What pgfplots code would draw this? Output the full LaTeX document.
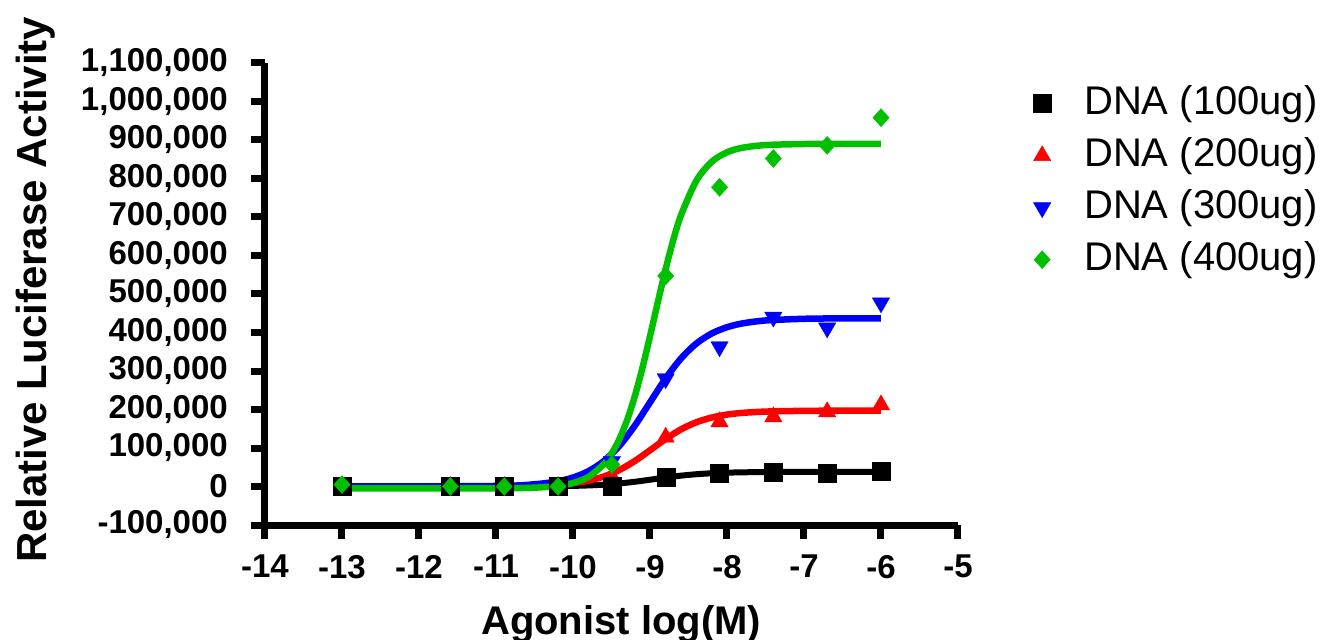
\documentclass[border=0pt]{standalone}
\usepackage{pgfplots}
\pgfplotsset{compat=1.18}
\usepackage{fontspec}
\setmainfont{Liberation Sans}

\definecolor{prismred}{RGB}{255,0,0}
\definecolor{prismblue}{RGB}{0,0,255}
\definecolor{prismgreen}{RGB}{0,192,0}

\begin{document}
\begin{tikzpicture}
\begin{axis}[
  at={(0,0)}, anchor=south west,
  scale only axis, width=693bp, height=462bp,
  xmin=-14, xmax=-5, ymin=-100000, ymax=1100000,
  xtick={-14,-13,-12,-11,-10,-9,-8,-7,-6,-5},
  ytick={-100000,0,100000,200000,300000,400000,500000,600000,700000,800000,900000,1000000,1100000},
  scaled y ticks=false,
  axis lines=left,
  axis line style={-, line width=7bp},
  tick align=outside,
  major tick length=14bp,
  major tick style={line width=7bp, black},
  /pgf/number format/assume math mode=true,
  yticklabel style={/pgf/number format/fixed, /pgf/number format/1000 sep={,},
    anchor=east, inner sep=0pt, xshift=-23bp},
  xticklabel style={anchor=north, inner sep=0pt, yshift=-16bp},
  tick label style={font=\bfseries\fontsize{33bp}{39bp}\selectfont},
  xlabel={Agonist log(M)},
  ylabel={Relative Luciferase Activity},
  every axis x label/.style={at={(axis description cs:0.514,-0.236)}, anchor=base,
    font=\bfseries\fontsize{40bp}{46bp}\selectfont},
  every axis y label/.style={at={(axis description cs:-0.316,0.509)}, rotate=90, anchor=base,
    font=\bfseries\fontsize{42bp}{48bp}\selectfont},
  legend cell align=left,
  legend style={at={(axis description cs:1,1)}, anchor=north west, xshift=75bp, yshift=-22bp,
    draw=none, fill=none, inner sep=0pt, row sep=15bp, column sep=33bp,
    font=\fontsize{40bp}{46bp}\selectfont,
    nodes={inner sep=0pt, text height=29bp, text depth=8bp}},
]
\addlegendimage{only marks, mark=square*, mark size=9bp, black}
\addlegendentry{DNA (100ug)}
\addlegendimage{only marks, mark=triangle*, mark size=10bp, prismred}
\addlegendentry{DNA (200ug)}
\addlegendimage{only marks, mark=triangle*, mark size=10bp, mark options={rotate=180}, prismblue}
\addlegendentry{DNA (300ug)}
\addlegendimage{only marks, mark=diamond*, mark size=9bp, mark options={xscale=1.2}, prismgreen}
\addlegendentry{DNA (400ug)}

% fitted curves
\addplot[forget plot, black, line width=6bp, smooth] coordinates {
(-13,0) (-11,80) (-10.5,360) (-10.2,880) (-10,1570) (-9.8,2770) (-9.6,4750) (-9.4,7840)
(-9.2,12210) (-9.0,17580) (-8.8,23200) (-8.6,28130) (-8.4,31860) (-8.2,34360) (-8.0,35910)
(-7.8,36820) (-7.5,37510) (-7.0,37900) (-6.5,37980) (-6,38000)};
\addplot[forget plot, prismred, line width=6.5bp, smooth] coordinates {
(-13,0) (-11,450) (-10.5,2000) (-10.2,4840) (-10,8630) (-9.8,15150) (-9.6,25950) (-9.4,42620)
(-9.2,65870) (-9.0,94080) (-8.8,123000) (-8.6,148100) (-8.4,166700) (-8.2,179100) (-8.0,186800)
(-7.8,191200) (-7.5,194600) (-7,196500) (-6.5,196900) (-6,197000)};
\addplot[forget plot, prismblue, line width=6.5bp, smooth] coordinates {
(-13,0) (-11,1380) (-10.5,5750) (-10.2,13400) (-10,23280) (-9.8,39730) (-9.6,65980) (-9.4,105000)
(-9.2,157300) (-9.0,218500) (-8.8,279700) (-8.6,332000) (-8.4,371000) (-8.2,397300) (-8.0,413700)
(-7.8,423600) (-7.5,431200) (-7,435600) (-6.5,436700) (-6,437000)};
\addplot[forget plot, prismgreen, line width=6.5bp, smooth] coordinates {
(-13,-5000) (-11,-4718) (-10.5,-3010) (-10.2,1400) (-10,8900) (-9.8,24870) (-9.6,57840)
(-9.5,84920) (-9.4,121900) (-9.3,170700) (-9.2,232600) (-9.1,306700) (-9.0,390100) (-8.9,477400)
(-8.8,562200) (-8.7,638500) (-8.6,703000) (-8.4,793500) (-8.2,843200) (-8.0,868000)
(-7.8,879800) (-7.5,886800) (-7,889550) (-6.5,889950) (-6,890000)};

% data points
\addplot[forget plot, only marks, mark=triangle*, mark size=10bp, prismred, line width=0.4bp] coordinates {
(-13,0) (-11.592,0) (-10.893,0) (-10.194,0) (-9.495,26000) (-8.796,128000) (-8.097,168000)
(-7.398,181000) (-6.699,194000) (-6,212000)};
\addplot[forget plot, only marks, mark=triangle*, mark size=10bp, mark options={rotate=180}, prismblue, line width=0.4bp] coordinates {
(-13,3000) (-11.592,3000) (-10.893,3000) (-10.194,5000) (-9.495,65000) (-8.796,280000) (-8.097,363000)
(-7.398,440000) (-6.699,412000) (-6,477000)};
\addplot[forget plot, only marks, mark=square*, mark size=9bp, black, line width=0.4bp] coordinates {
(-13,0) (-11.592,0) (-10.893,0) (-10.194,0) (-9.495,2000) (-8.796,23000) (-8.097,34000)
(-7.398,36000) (-6.699,34000) (-6,41000)};
\addplot[forget plot, only marks, mark=diamond*, mark size=9bp, mark options={xscale=1.2}, prismgreen, line width=0.4bp] coordinates {
(-13,5000) (-11.592,0) (-10.893,0) (-10.194,0) (-9.495,57000) (-8.796,547000) (-8.097,777000)
(-7.398,852000) (-6.699,886000) (-6,958000)};
\end{axis}
\pgfresetboundingbox
\path[use as bounding box] (-265bp,-115bp) rectangle (1055bp,525bp);
\end{tikzpicture}
\end{document}
